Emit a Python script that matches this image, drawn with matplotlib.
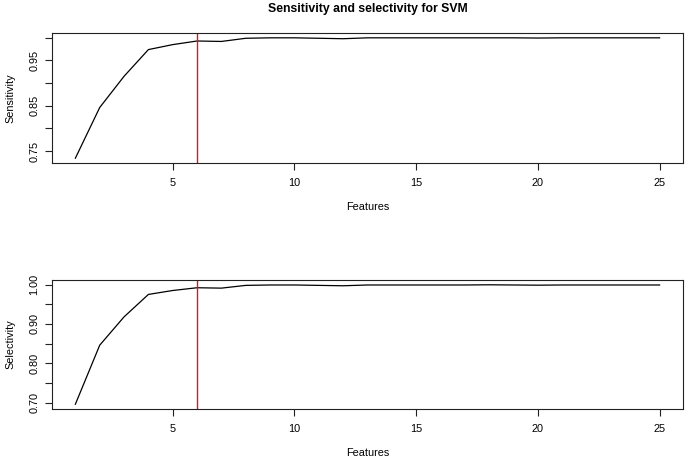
import matplotlib
matplotlib.use("Agg")
import matplotlib.pyplot as plt

plt.rcParams["font.family"] = ["Liberation Sans", "DejaVu Sans"]

features = list(range(1, 26))
sensitivity = [0.734, 0.846, 0.915, 0.974, 0.985, 0.993, 0.992, 0.999, 1.000, 1.000,
               0.999, 0.998, 1.000, 1.000, 1.000, 1.000, 1.000, 1.000, 1.000, 0.9995,
               1.000, 1.000, 1.000, 1.000, 1.000]
selectivity = [0.696, 0.846, 0.918, 0.975, 0.985, 0.992, 0.991, 0.998, 0.999, 0.999,
               0.998, 0.997, 0.999, 0.999, 0.999, 0.999, 0.999, 0.9995, 0.999, 0.9985,
               0.999, 0.999, 0.999, 0.999, 0.999]
cutoff = 6

sens_ticks = [0.75, 0.80, 0.85, 0.90, 0.95, 1.00]
sens_labels = ["0.75", "", "0.85", "", "0.95", ""]
sel_ticks = [0.70, 0.75, 0.80, 0.85, 0.90, 0.95, 1.00]
sel_labels = ["0.70", "", "0.80", "", "0.90", "", "1.00"]
x_ticks = [5, 10, 15, 20, 25]

fig = plt.figure(figsize=(6.86, 4.61), dpi=100)
ax1 = fig.add_axes([0.0758, 0.6464, 0.9198, 0.2820])
ax2 = fig.add_axes([0.0758, 0.1128, 0.9198, 0.2798])


def r_style(ax, x, y, ylabel, yticks, ylabels):
    ax.plot(x, y, color="black", lw=0.9)
    ax.axvline(cutoff, color="#e8101a", lw=1.0)
    pad_x = 0.04 * (max(x) - min(x))
    ax.set_xlim(min(x) - pad_x, max(x) + pad_x)
    pad_y = 0.04 * (max(y) - min(y))
    ax.set_ylim(min(y) - pad_y, max(y) + pad_y)
    ax.set_xticks(x_ticks)
    ax.set_yticks(yticks)
    ax.set_yticklabels(ylabels, rotation=90, va="center")
    ax.tick_params(direction="out", length=5, width=0.8, labelsize=7.8, color="#222222")
    ax.tick_params(axis="x", pad=6)
    ax.tick_params(axis="y", pad=4)
    for sp in ax.spines.values():
        sp.set_linewidth(0.8)
        sp.set_color("#222222")
    # R-style label placement: fixed distance from the box
    h = ax.get_position().height * fig.get_figheight() * fig.dpi
    w = ax.get_position().width * fig.get_figwidth() * fig.dpi
    ax.set_xlabel("Features", fontsize=7.8, va="center")
    ax.xaxis.set_label_coords(0.5, -44 / h)
    ax.set_ylabel(ylabel, fontsize=7.8, va="center")
    ax.yaxis.set_label_coords(-42 / w, 0.5)


r_style(ax1, features, sensitivity, "Sensitivity", sens_ticks, sens_labels)
r_style(ax2, features, selectivity, "Selectivity", sel_ticks, sel_labels)

fig.text(0.5358, 1 - 9 / 461, "Sensitivity and selectivity for SVM", ha="center", va="center",
         fontsize=8.8, fontweight="bold")

fig.savefig("out.png", dpi=100)
